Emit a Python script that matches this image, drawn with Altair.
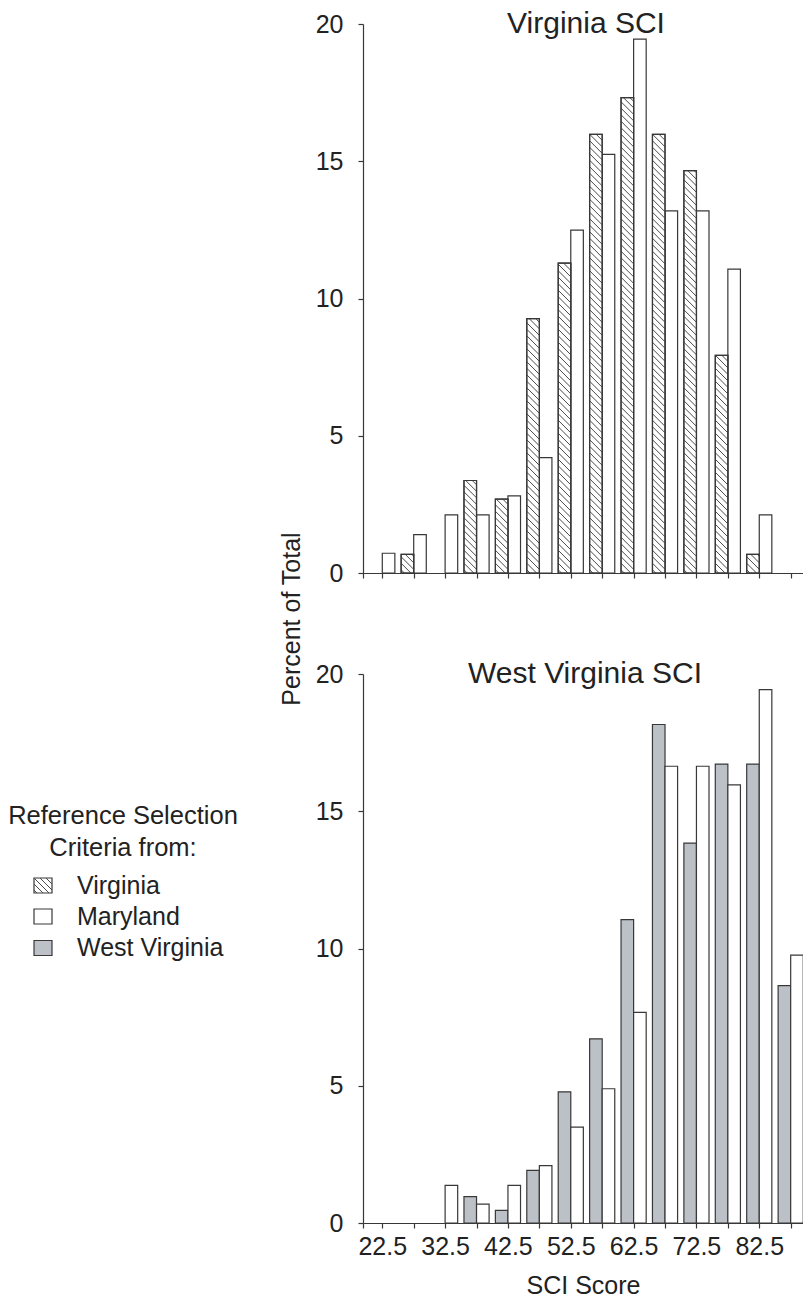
import altair as alt
import pandas as pd

# ---------------- data (percent of total per SCI score bin) ----------------
bins = [22.5, 27.5, 32.5, 37.5, 42.5, 47.5, 52.5, 57.5, 62.5, 67.5, 72.5, 77.5, 82.5, 87.5]
va_virginia = [0, 0.68, 0, 3.37, 2.69, 9.27, 11.29, 15.98, 17.32, 15.98, 14.66, 7.93, 0.68, 0]
va_maryland = [0.72, 1.40, 2.12, 2.12, 2.81, 4.20, 12.49, 15.25, 19.45, 13.19, 13.19, 11.07, 2.12, 0]
wv_westvirginia = [0, 0, 0, 0.96, 0.46, 1.92, 4.78, 6.71, 11.05, 18.16, 13.84, 16.72, 16.72, 8.65]
wv_maryland = [0, 0, 1.37, 0.69, 1.37, 2.09, 3.49, 4.89, 7.67, 16.64, 16.64, 15.96, 19.43, 9.76]

tick_values = [19.43] + bins
y_ticks = [0, 5, 10, 15, 20]
legend_labels = ["Virginia", "Maryland", "West Virginia"]

# ---------------- layout constants ----------------
FONT = "Liberation Sans"
TXT = "#222222"
LINE = "#383838"
GRAY = "#bcc0c7"
X_MIN, X_MAX = 19.43, 89.46
W, H = 440, 549
HALF = 2.0  # bar width in score units
KX = W / (X_MAX - X_MIN)
KY = H / 20.0
STEP = 6.5  # hatch spacing (px)

x_scale = alt.Scale(domain=[X_MIN, X_MAX], nice=False, zero=False)
y_scale = alt.Scale(domain=[0, 20], nice=False, zero=True)


def bars_df(vals, side):
    rows = []
    for b, v in zip(bins, vals):
        if v <= 0:
            continue
        x0 = b - HALF if side == "left" else b
        rows.append({"x0": x0, "x1": x0 + HALF, "v": v, "base": 0.0})
    return pd.DataFrame(rows)


def hatch_df(df):
    rows = []
    for _, r in df.iterrows():
        bw = (r["x1"] - r["x0"]) * KX
        bh = r["v"] * KY
        c = STEP / 2
        while c < bw + bh:
            xs = max(0.0, c - bh)
            xe = min(bw, c)
            if xe > xs:
                rows.append({
                    "x0": r["x0"] + xs / KX, "v": (c - xs) / KY,
                    "x1": r["x0"] + xe / KX, "v2": (c - xe) / KY,
                })
            c += STEP
    return pd.DataFrame(rows)


def x_axis(labels):
    return alt.Axis(
        values=tick_values,
        labels=labels,
        labelExpr="(datum.value - 22.5) % 10 == 0 ? format(datum.value, '.1f') : ''",
        labelFlush=False, labelOverlap=False,
        labelFontSize=25, labelColor=TXT, labelFont=FONT, labelPadding=6,
        tickSize=5, tickColor=LINE, domainColor=LINE, domainWidth=1.2, tickWidth=1.2,
        grid=False,
        title="SCI Score" if labels else "",
        titleFontSize=25, titleFontWeight="normal", titleColor=TXT, titleFont=FONT,
        titlePadding=14,
    )


y_axis = alt.Axis(
    values=y_ticks, labelFontSize=25, labelColor=TXT, labelFont=FONT,
    labelPadding=15, tickSize=5, tickColor=LINE, domainColor=LINE,
    domainWidth=1.2, tickWidth=1.2, grid=False, title="", labelFlush=False,
)


def bar_layer(df, fill, labels, stroke_only=False):
    props = dict(stroke=LINE, strokeWidth=1.2, clip=True)
    if stroke_only:
        props["fillOpacity"] = 0
        props["fill"] = "white"
    else:
        props["fill"] = fill
    return alt.Chart(df).mark_rect(**props).encode(
        x=alt.X("x0:Q", scale=x_scale, axis=x_axis(labels)),
        x2="x1:Q",
        y=alt.Y("v:Q", scale=y_scale, axis=y_axis),
        y2="base:Q",
    )


def hatch_layer(df, labels):
    return alt.Chart(df).mark_rule(color="#4a4a4a", strokeWidth=1, clip=True).encode(
        x=alt.X("x0:Q", scale=x_scale, axis=x_axis(labels)),
        x2="x1:Q",
        y=alt.Y("v:Q", scale=y_scale, axis=y_axis),
        y2="v2:Q",
    )


one = pd.DataFrame({"a": [0]})


def text(t, x, y, size=25, align="center", baseline="middle", angle=0):
    kw = dict(text=t, font=FONT, fontSize=size, color=TXT, align=align, baseline=baseline)
    if angle:
        kw["angle"] = angle
    return alt.Chart(one).mark_text(**kw).encode(x=alt.value(x), y=alt.value(y))


# ---------------- top panel: Virginia SCI ----------------
va_v = bars_df(va_virginia, "left")
va_m = bars_df(va_maryland, "right")
top = alt.layer(
    bar_layer(va_m, "white", False),
    bar_layer(va_v, "white", False),
    hatch_layer(hatch_df(va_v), False),
    bar_layer(va_v, "white", False, stroke_only=True),
    text("Virginia SCI", 223, 9, size=30, baseline="alphabetic"),
).properties(width=W, height=H)

# ---------------- bottom panel: West Virginia SCI ----------------
wv_w = bars_df(wv_westvirginia, "left")
wv_m = bars_df(wv_maryland, "right")

# legend symbol hatch (pixel coordinates inside the Virginia swatch)
sym_rows = []
sx0, sx1, sy0, sy1 = -329, -311, 204, 219
for c in [-12, -6, 0, 6, 12]:
    xa, xb = sx0, sx1
    ya, yb = sy0 + c, sy0 + c + (sx1 - sx0)
    if ya < sy0:
        xa = xa + (sy0 - ya)
        ya = sy0
    if yb > sy1:
        xb = xb - (yb - sy1)
        yb = sy1
    if xb > xa:
        sym_rows.append({"px": xa, "py": ya, "px2": xb, "py2": yb})
sym_df = pd.DataFrame(sym_rows)

legend_y = [211.5, 242.5, 274]
legend_layers = [
    text("Reference Selection", -240, 142, size=25.5),
    text("Criteria from:", -240, 174, size=25.5),
]
fills = ["white", "white", GRAY]
for lab, yc, f in zip(legend_labels, legend_y, fills):
    legend_layers.append(
        alt.Chart(one).mark_rect(fill=f, stroke=LINE, strokeWidth=1.2).encode(
            x=alt.value(-329), x2=alt.value(-311),
            y=alt.value(yc - 7.5), y2=alt.value(yc + 7.5),
        )
    )
    legend_layers.append(text(lab, -286, yc, align="left"))
legend_layers.append(
    alt.Chart(sym_df).mark_rule(color="#4a4a4a", strokeWidth=1).encode(
        x=alt.X("px:Q", scale=None), x2="px2:Q",
        y=alt.Y("py:Q", scale=None), y2="py2:Q",
    )
)

bottom = alt.layer(
    bar_layer(wv_w, GRAY, True),
    bar_layer(wv_m, "white", True),
    text("West Virginia SCI", 222, 9, size=30, baseline="alphabetic"),
    text("Percent of Total", -63, -55, angle=270, baseline="alphabetic"),
    *legend_layers,
).properties(width=W, height=H)

chart = alt.vconcat(top, bottom, spacing=101, bounds="flush").properties(
    padding={"left": 8, "top": 9, "right": 0, "bottom": 5}
).configure(font=FONT, background="white").configure_view(
    stroke="transparent", strokeWidth=0
)

chart.save("out.html", embed_options={"renderer": "svg", "actions": False})
